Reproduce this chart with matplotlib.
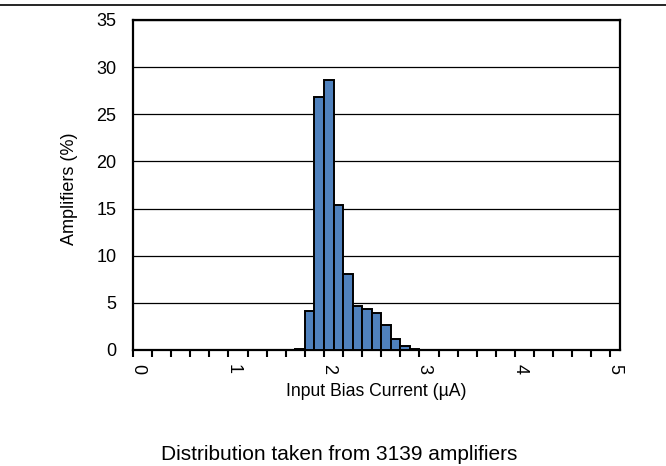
import matplotlib
matplotlib.use("Agg")
import matplotlib.pyplot as plt
from matplotlib.lines import Line2D
import numpy as np

# histogram categories (µA, one per 0.1 step from 0.0 to 5.0) and share of amplifiers (%)
bin_left = [1.6, 1.7, 1.8, 1.9, 2.0, 2.1, 2.2, 2.3, 2.4, 2.5, 2.6, 2.7, 2.8, 2.9]
amplifiers_pct = [0.03, 0.1, 4.1, 26.8, 28.6, 15.4, 8.1, 4.7, 4.4, 3.9, 2.6, 1.15, 0.4, 0.15]
bin_width = 0.1
n_categories = 51

y_ticks = [0, 5, 10, 15, 20, 25, 30, 35]
x_ticks = [0, 1, 2, 3, 4, 5]

plt.rcParams["font.family"] = ["Liberation Sans", "DejaVu Sans"]

fig = plt.figure(figsize=(6.66, 4.66), dpi=100)
ax = fig.add_axes([133 / 666, 1 - 350 / 466, (620 - 133) / 666, (350 - 20) / 466])

ax.bar(bin_left, amplifiers_pct, width=bin_width, align="edge",
       color="#4F81BD", edgecolor="black", linewidth=1.4, zorder=3)

ax.set_xlim(0, n_categories * bin_width)
ax.set_ylim(0, 35)
ax.set_yticks(y_ticks)

# category-style axis: tick marks between categories, labels centred on them
ax.set_xticks([t + bin_width / 2 for t in x_ticks])
ax.set_xticklabels([str(t) for t in x_ticks], rotation=270)
ax.set_xticks(np.arange(0, 5.01, 0.2), minor=True)
ax.tick_params(axis="x", which="major", length=0, labelsize=13, pad=10)
ax.tick_params(axis="x", which="minor", length=5, width=1.5, direction="out")
ax.tick_params(axis="y", length=0, pad=12, labelsize=13)
ax.grid(axis="y", color="black", linewidth=0.9, zorder=0)
for spine in ax.spines.values():
    spine.set_linewidth(1.6)

ax.set_ylabel("Amplifiers (%)", fontsize=13)
ax.yaxis.set_label_coords((78 - 133) / 487, 0.49)
ax.set_xlabel("Input Bias Current (µA)", fontsize=12.7)
ax.xaxis.set_label_coords(0.5, -(392 - 350) / 330)
ax.xaxis.label.set_va("center")

fig.text(339 / 666, 1 - 455 / 466, "Distribution taken from 3139 amplifiers",
         ha="center", va="center", fontsize=15)
fig.add_artist(Line2D([0, 1], [1 - 5 / 466, 1 - 5 / 466], color="black",
                      linewidth=1.2, transform=fig.transFigure))

fig.savefig("out.png", dpi=100)
